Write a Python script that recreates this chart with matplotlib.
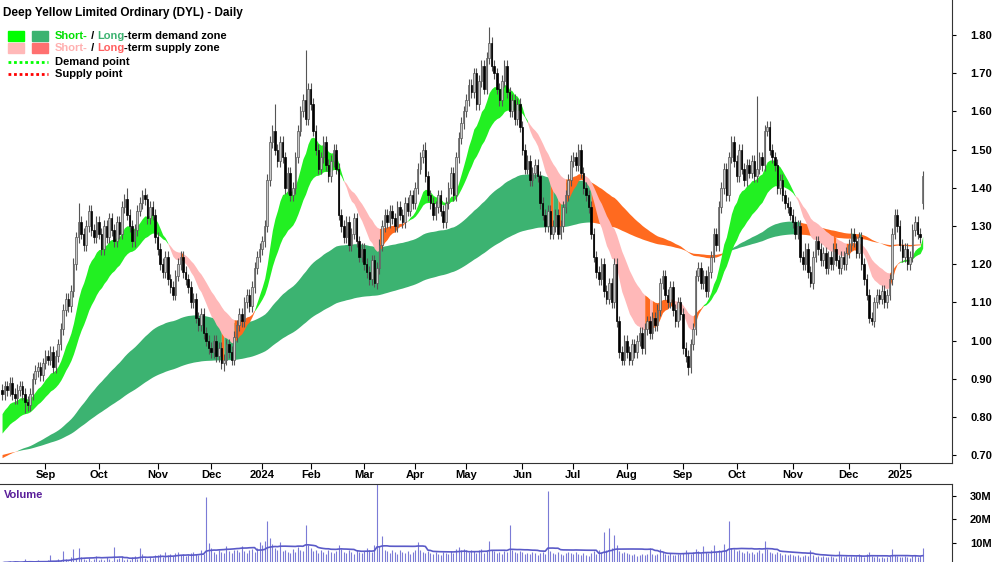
import numpy as np
import pandas as pd
import matplotlib
matplotlib.use("Agg")
import matplotlib.pyplot as plt
from matplotlib.patches import Rectangle
from matplotlib.lines import Line2D

closes = [
 # Aug 2023 (17)
 0.86,0.88,0.87,0.89,0.86,0.85,0.87,0.88,0.86,0.84,0.83,0.86,0.90,0.92,0.93,0.91,0.94,
 # Sep (21)
 0.96,0.95,0.97,0.93,0.96,0.99,1.03,1.08,1.11,1.09,1.13,1.20,1.27,1.31,1.28,1.25,1.30,1.34,1.29,1.27,1.31,
 # Oct (23)
 1.28,1.24,1.30,1.27,1.32,1.29,1.26,1.31,1.28,1.35,1.37,1.33,1.30,1.26,1.29,1.34,1.36,1.38,1.37,1.32,1.35,1.33,1.27,
 # Nov (21)
 1.24,1.20,1.18,1.22,1.16,1.14,1.12,1.17,1.20,1.22,1.18,1.16,1.14,1.10,1.11,1.06,1.04,1.07,1.02,1.00,0.98,
 # Dec (20)
 0.97,1.00,0.96,0.98,0.94,0.95,0.99,0.97,0.95,1.01,1.04,1.07,1.05,1.10,1.12,1.09,1.14,1.19,1.22,1.24,
 # Jan 2024 (19)
 1.26,1.30,1.42,1.52,1.55,1.50,1.47,1.52,1.48,1.40,1.44,1.38,1.40,1.48,1.55,1.60,1.63,1.58,1.66,
 # Feb (21)
 1.62,1.55,1.50,1.45,1.48,1.52,1.46,1.43,1.47,1.50,1.45,1.33,1.30,1.27,1.31,1.25,1.28,1.32,1.26,1.22,1.24,
 # Mar (20)
 1.20,1.18,1.16,1.21,1.15,1.19,1.25,1.30,1.33,1.31,1.34,1.32,1.30,1.35,1.33,1.31,1.36,1.34,1.38,1.36,
 # Apr (20)
 1.40,1.45,1.48,1.50,1.43,1.38,1.36,1.33,1.35,1.38,1.34,1.31,1.36,1.40,1.44,1.38,1.48,1.53,1.57,1.60,
 # May (22)
 1.63,1.67,1.65,1.70,1.62,1.68,1.72,1.66,1.74,1.78,1.72,1.70,1.66,1.63,1.68,1.72,1.65,1.60,1.63,1.58,1.62,1.56,
 # Jun (20)
 1.50,1.45,1.47,1.42,1.44,1.46,1.43,1.36,1.33,1.30,1.34,1.28,1.30,1.33,1.28,1.30,1.35,1.38,1.42,1.47,
 # Jul (21)
 1.48,1.46,1.50,1.44,1.40,1.38,1.35,1.28,1.22,1.18,1.16,1.20,1.13,1.11,1.15,1.10,1.20,1.05,0.97,0.95,1.00,
 # Aug (22)
 0.97,0.95,0.99,0.97,1.00,1.02,0.98,1.03,1.05,1.02,1.06,1.04,1.08,1.15,1.17,1.12,1.10,1.14,1.08,1.05,1.10,1.07,
 # Sep (21)
 0.98,0.96,0.93,0.99,1.03,1.17,1.19,1.15,1.17,1.13,1.18,1.22,1.28,1.25,1.35,1.40,1.45,1.38,1.48,1.52,1.47,
 # Oct (22)
 1.43,1.50,1.45,1.42,1.46,1.44,1.47,1.43,1.45,1.48,1.46,1.55,1.56,1.50,1.48,1.46,1.40,1.42,1.38,1.36,1.35,1.33,
 # Nov (22)
 1.31,1.28,1.30,1.22,1.20,1.24,1.18,1.15,1.22,1.26,1.24,1.21,1.23,1.19,1.22,1.20,1.24,1.21,1.19,1.22,1.20,1.23,
 # Dec (20)
 1.25,1.28,1.26,1.23,1.27,1.20,1.16,1.12,1.06,1.05,1.10,1.12,1.11,1.13,1.10,1.12,1.16,1.28,1.33,1.30,
 # Jan 2025 (10)
 1.25,1.22,1.24,1.20,1.22,1.29,1.31,1.28,1.27,1.43,
]
first_open = 0.87
open_override = {241: 1.20, 361: 1.36, 272: 1.03, 104: 1.30}
high_override = {119: 1.76, 191: 1.82, 296: 1.64, 30: 1.36, 56: 1.40, 49: 1.40, 107: 1.62, 166: 1.52}
low_override = {146: 1.14, 269: 0.91, 87: 0.92, 341: 1.04, 9: 0.81, 317: 1.14}
wick = 0.015

volumes = [
 1.5,2.0,1.8,2.2,1.6,2.5,1.9,1.4,2.1,3.0,1.7,2.4,1.6,1.8,2.9,2.2,1.9,
 2.0,2.6,5.0,1.8,2.4,3.1,2.2,6.5,3.0,2.5,4.2,7.5,3.5,8.0,4.0,3.2,2.8,3.6,2.5,3.0,4.4,
 2.6,3.3,2.8,4.0,3.1,2.5,8.2,3.0,3.8,4.5,2.9,3.3,2.7,3.9,4.6,3.1,8.0,5.2,3.4,2.8,4.0,3.6,5.0,
 4.8,5.5,4.2,6.0,4.9,5.2,4.4,5.8,6.3,4.7,5.1,4.5,4.9,5.6,6.0,5.2,4.8,7.0,5.4,29.5,10.0,
 8.0,6.2,5.5,7.0,6.1,5.8,8.5,6.5,5.9,7.2,6.8,6.0,8.8,6.4,5.6,6.9,7.5,6.2,8.0,10.5,
 9.0,11.0,19.5,12.0,9.5,8.0,7.2,10.2,6.5,7.0,6.2,5.8,7.5,6.1,8.2,7.0,6.4,17.5,9.0,
 8.0,6.5,7.2,5.9,6.8,6.0,5.5,7.0,6.3,5.8,6.6,9.0,7.4,6.0,5.7,6.8,6.2,5.4,7.0,6.1,5.8,
 6.5,8.0,7.0,6.2,9.0,38.0,8.5,13.0,7.2,6.4,5.9,6.8,6.1,5.5,7.0,6.2,5.8,6.5,5.4,6.0,
 6.8,10.5,7.2,6.0,5.6,6.4,5.8,5.2,6.1,5.5,5.0,6.3,5.7,5.4,6.6,5.9,7.5,8.2,6.9,7.4,
 6.8,6.0,7.1,6.5,5.8,6.9,7.6,5.9,6.4,11.0,7.2,6.5,5.8,6.1,5.5,6.7,6.0,17.5,7.0,6.2,5.8,6.4,
 6.0,5.4,5.9,5.2,6.1,5.6,5.0,5.8,6.3,5.5,32.0,6.4,5.7,5.3,6.0,5.5,4.9,5.8,6.2,5.6,
 5.5,6.1,5.2,4.9,5.6,5.0,4.6,5.8,6.5,5.2,7.0,6.1,14.5,6.8,16.5,8.0,13.5,9.0,6.5,5.8,6.2,
 5.8,5.2,4.9,5.5,4.6,5.0,5.3,4.7,5.1,8.0,5.5,4.8,5.2,7.5,6.0,5.4,4.9,5.6,5.0,4.7,5.3,5.1,
 5.6,6.8,5.9,5.2,6.0,7.5,6.4,5.8,8.5,6.1,5.7,6.9,9.0,6.3,7.2,6.6,9.5,7.0,19.5,8.0,7.4,
 6.5,7.0,6.2,5.8,6.6,5.9,6.3,5.5,6.0,6.8,5.7,11.0,7.5,6.2,5.8,5.4,6.1,5.6,5.0,5.5,4.9,5.2,
 4.8,4.5,5.0,4.2,4.6,4.9,4.3,7.0,4.7,4.1,4.4,4.0,4.6,4.2,3.9,4.5,4.1,3.8,6.5,4.3,4.0,4.4,
 4.2,4.6,3.9,4.4,5.2,4.8,4.1,5.5,6.0,4.5,4.0,4.3,3.8,4.2,3.7,4.1,4.5,7.5,5.0,4.4,
 4.2,3.9,4.6,4.0,3.8,4.3,5.0,4.1,4.4,8.0,
]

month_labels = ["Sep","Oct","Nov","Dec","2024","Feb","Mar","Apr","May","Jun","Jul","Aug","Sep","Oct","Nov","Dec","2025"]
month_starts = [17,38,61,82,102,121,142,162,182,204,224,245,267,288,310,332,352]
price_ticks = [0.70,0.80,0.90,1.00,1.10,1.20,1.30,1.40,1.50,1.60,1.70,1.80]
vol_ticks = [10,20,30]
vol_tick_labels = ["10M","20M","30M"]

short_fast_n, short_slow_n = 13, 28
long_fast_n, long_slow_n = 105, 205
init_state = {"sf": 0.80, "ss": 0.75, "lf": 0.69, "ls": 0.70}

c = np.array(closes, float)
n = len(c)
x = np.arange(n)
o = np.empty(n); o[0] = first_open; o[1:] = c[:-1]
for k, v in open_override.items(): o[k] = v
h = np.maximum(o, c) + wick
l = np.minimum(o, c) - wick
for k, v in high_override.items(): h[k] = v
for k, v in low_override.items(): l[k] = v

def ema(vals, span, init):
    a = 2.0 / (span + 1)
    out = np.empty(len(vals)); prev = init
    for i, v in enumerate(vals):
        prev = prev + a * (v - prev); out[i] = prev
    return out

sf = ema(c, short_fast_n, init_state["sf"])
ss = ema(c, short_slow_n, init_state["ss"])
lf = ema(c, long_fast_n, init_state["lf"])
ls = ema(c, long_slow_n, init_state["ls"])

C_SG = "#22F022"; C_LG = "#3CB371"; C_PINK = "#FFB8B8"; C_OR = "#FF6A1F"

fig = plt.figure(figsize=(10, 5.62), dpi=100)
plt.rcParams['font.family'] = ['Liberation Sans', 'DejaVu Sans']
ax = fig.add_axes([0.0, 0.176, 0.952, 0.824])
axv = fig.add_axes([0.0, 0.0, 0.952, 0.139], sharex=ax)

def fill_band(a, b, colors):
    lo = np.minimum(a, b); hi = np.maximum(a, b)
    start = 0
    for i in range(1, n + 1):
        if i == n or colors[i] != colors[start]:
            end = min(i, n - 1)
            seg = slice(start, end + 1)
            ax.fill_between(x[seg], lo[seg], hi[seg], color=colors[start], lw=0, zorder=1)
            start = i

lcol = [C_OR if (lf[i] < ls[i] or c[i] < min(lf[i], ls[i])) else C_LG for i in range(n)]
scol = []
for i in range(n):
    if sf[i] > ss[i]:
        scol.append(C_SG)
    elif c[i] >= min(sf[i], ss[i]):
        scol.append(C_OR)
    else:
        scol.append(C_PINK)
fill_band(lf, ls, lcol)
fill_band(sf, ss, scol)

up = c >= o
ax.vlines(x, l, h, color="#555555", lw=0.8, zorder=3)
body_lo = np.minimum(o, c); body_h = np.maximum(np.abs(c - o), 0.004)
ax.bar(x[up], body_h[up], 0.6, bottom=body_lo[up], color="#C8C8C8", edgecolor="#555555", lw=0.5, zorder=4)
ax.bar(x[~up], body_h[~up], 0.6, bottom=body_lo[~up], color="#000000", edgecolor="#000000", lw=0.5, zorder=4)

ax.set_xlim(-0.8, n + 10.5)
ax.set_ylim(0.679, 1.892)
ax.yaxis.tick_right()
ax.set_yticks(price_ticks)
ax.set_yticklabels([f"{t:.2f}" for t in price_ticks], fontsize=8, fontweight="bold")
ax.tick_params(axis="y", direction="out", length=3, pad=10)
ax.set_xticks(month_starts)
ax.set_xticklabels(month_labels, fontsize=8, fontweight="bold")
ax.tick_params(axis="x", direction="out", length=4, pad=1)
for s in ["top", "left"]:
    ax.spines[s].set_visible(False)
ax.spines["right"].set_color("#333333"); ax.spines["bottom"].set_color("#333333")

v = np.array(volumes)
axv.vlines(x, 0, v, color="#7B7BD6", lw=0.8)
vma = pd.Series(v).rolling(20, min_periods=1).mean().values
axv.plot(x, vma, color="#5A5AC8", lw=1.2)
axv.set_ylim(1.9, 35.1)
axv.yaxis.tick_right()
axv.set_yticks(vol_ticks)
axv.set_yticklabels(vol_tick_labels, fontsize=8, fontweight="bold")
axv.tick_params(axis="y", direction="out", length=3, pad=10)
axv.tick_params(axis="x", bottom=False, labelbottom=False)
for s in ["left", "bottom"]:
    axv.spines[s].set_visible(False)
axv.spines["top"].set_color("#333333"); axv.spines["right"].set_color("#333333")
axv.text(0.004, 0.92, "Volume", transform=axv.transAxes, color="#5A1E9A", fontsize=8, fontweight="bold", va="top")

fig.text(0.003, 0.987, "Deep Yellow Limited Ordinary (DYL) - Daily", fontsize=8.5, fontweight="bold", va="top")
W, H = 1000, 562
def fx(px): return px / W
def fy(py): return 1 - py / H
for (x0, y0, col) in [(8, 31, "#00FF00"), (32, 31, C_LG), (8, 43, C_PINK), (32, 43, "#FF7070")]:
    fig.patches.append(Rectangle((fx(x0), fy(y0 + 10)), 16 / W, 10 / H, transform=fig.transFigure, color=col))
fig.lines.append(Line2D([fx(8), fx(48)], [fy(62), fy(62)], transform=fig.transFigure, color="#00FF00", lw=2, ls=(0, (1, 1))))
fig.lines.append(Line2D([fx(8), fx(48)], [fy(74), fy(74)], transform=fig.transFigure, color="#FF0000", lw=2, ls=(0, (1, 1))))

fig.canvas.draw()
rend = fig.canvas.get_renderer()
def pieces(py, parts):
    xp = 55
    for txt, col in parts:
        t = fig.text(fx(xp), fy(py), txt, color=col, fontsize=8, fontweight="bold", va="center")
        bb = t.get_window_extent(renderer=rend)
        xp += bb.width
pieces(36, [("Short-", "#00E000"), (" / ", "black"), ("Long", C_LG), ("-term demand zone", "black")])
pieces(48, [("Short-", "#FFB0B0"), (" / ", "black"), ("Long", "#FF6060"), ("-term supply zone", "black")])
pieces(62, [("Demand point", "black")])
pieces(74, [("Supply point", "black")])

fig.savefig("out.png", dpi=100)
